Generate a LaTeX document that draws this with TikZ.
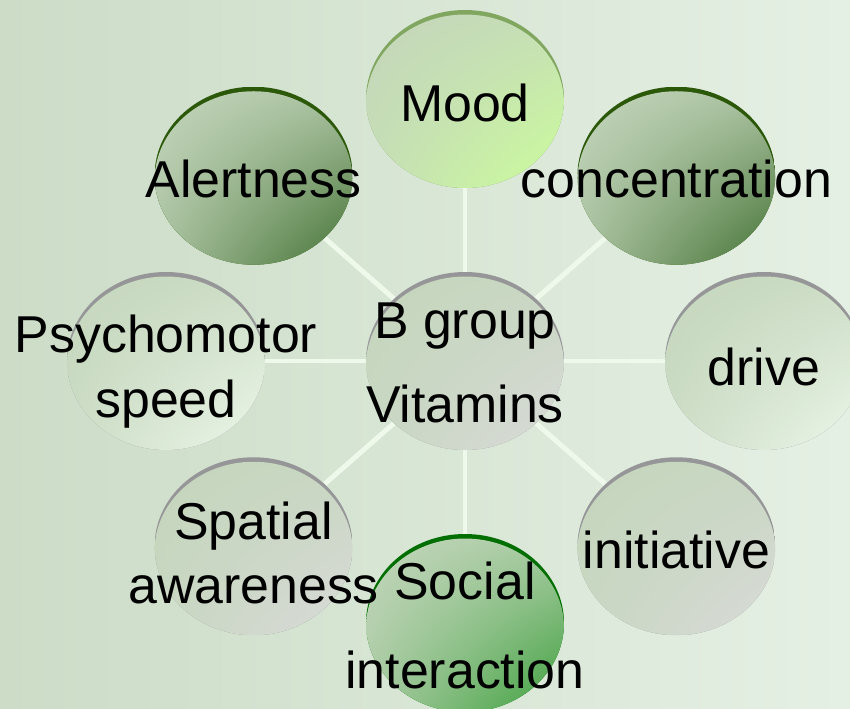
\documentclass[tikz,border=0pt]{standalone}
\usepackage{fontspec}
\setmainfont{Liberation Sans}
\usetikzlibrary{shapes,shadings,backgrounds,calc}
\definecolor{bgleft}{RGB}{204,220,199}
\definecolor{bgright}{RGB}{229,240,228}
\definecolor{spokec}{RGB}{238,249,236}
\definecolor{bubbletop}{RGB}{196,214,188}
\definecolor{rimgray}{RGB}{150,150,152}
\definecolor{rimdark}{RGB}{44,88,10}
\definecolor{rimsocial}{RGB}{0,110,0}
\definecolor{rimmood}{RGB}{128,166,96}
\definecolor{moodc}{RGB}{204,255,153}
\definecolor{alertc}{RGB}{62,110,46}
\definecolor{socialc}{RGB}{56,158,56}
\definecolor{paleglow}{RGB}{238,248,236}
\definecolor{greyc}{RGB}{218,218,218}
\tikzset{
	bubble/.style 2 args={
		ellipse, minimum width=3.96cm, minimum height=3.56cm, inner sep=0pt,
		path picture={
			\fill[#1] (path picture bounding box.south west) rectangle (path picture bounding box.north east);
			\shade[upper left=bubbletop, lower right=#2, upper right=bubbletop!80!#2, lower left=bubbletop!80!#2]
				([yshift=-0.09cm]path picture bounding box.center) ellipse [x radius=1.98cm, y radius=1.78cm];
		}
	},
	%
	bubbletext/.style={
		font=\fontsize{29.5}{#1}\selectfont, align=center, inner sep=0pt, anchor=base
	},
	bubbletext/.default=36.5,
	%
	spoke/.style={
		line width=2.8pt, draw=spokec
	}
}

\begin{document}
\begin{tikzpicture}
\useasboundingbox (0,0) rectangle (17,14.16);

\node(hub)[bubble={rimgray}{greyc}] at (9.30,6.94) {};
\node(mood)[bubble={rimmood}{moodc}] at ($(hub)+(90:5.98 and 5.24)$) {};
\node(conc)[bubble={rimdark}{alertc}] at ($(hub)+(45:5.98 and 5.24)$) {};
\node(drive)[bubble={rimgray}{paleglow}] at ($(hub)+(0:5.98 and 5.24)$) {};
\node(init)[bubble={rimgray}{greyc}] at ($(hub)+(-45:5.98 and 5.24)$) {};
\node(social)[bubble={rimsocial}{socialc}] at ($(hub)+(-90:5.98 and 5.24)$) {};
\node(spatial)[bubble={rimgray}{greyc}] at ($(hub)+(-135:5.98 and 5.24)$) {};
\node(psycho)[bubble={rimgray}{paleglow}] at ($(hub)+(180:5.98 and 5.24)$) {};
\node(alert)[bubble={rimdark}{alertc}] at ($(hub)+(135:5.98 and 5.24)$) {};

% two-line labels sit on the baseline of their last line
\node(hub-text)[bubbletext=47.8] at ([yshift=-1.22cm]hub.center) {B group\\Vitamins};
\node(mood-text)[bubbletext] at ([yshift=-0.46cm]mood.center) {Mood};
\node(conc-text)[bubbletext] at ([yshift=-0.44cm]conc.center) {concentration};
\node(drive-text)[bubbletext] at ([yshift=-0.48cm]drive.center) {drive};
\node(init-text)[bubbletext] at ([yshift=-0.44cm]init.center) {initiative};
\node(social-text)[bubbletext=50.6] at ([yshift=-1.30cm]social.center) {Social\\interaction};
\node(spatial-text)[bubbletext] at ([yshift=-1.14cm]spatial.center) {Spatial\\awareness};
\node(psycho-text)[bubbletext] at ([yshift=-1.12cm]psycho.center) {Psychomotor\\speed};
\node(alert-text)[bubbletext] at ([yshift=-0.44cm]alert.center) {Alertness};

\begin{scope}[on background layer]
\shade[left color=bgleft, right color=bgright] (0,0) rectangle (17,14.16);
\draw[spoke] (hub) -- (mood);
\draw[spoke] (hub) -- (conc);
\draw[spoke] (hub) -- (drive);
\draw[spoke] (hub) -- (init);
\draw[spoke] (hub) -- (social);
\draw[spoke] (hub) -- (spatial);
\draw[spoke] (hub) -- (psycho);
\draw[spoke] (hub) -- (alert);
\end{scope}
\end{tikzpicture}
\end{document}
